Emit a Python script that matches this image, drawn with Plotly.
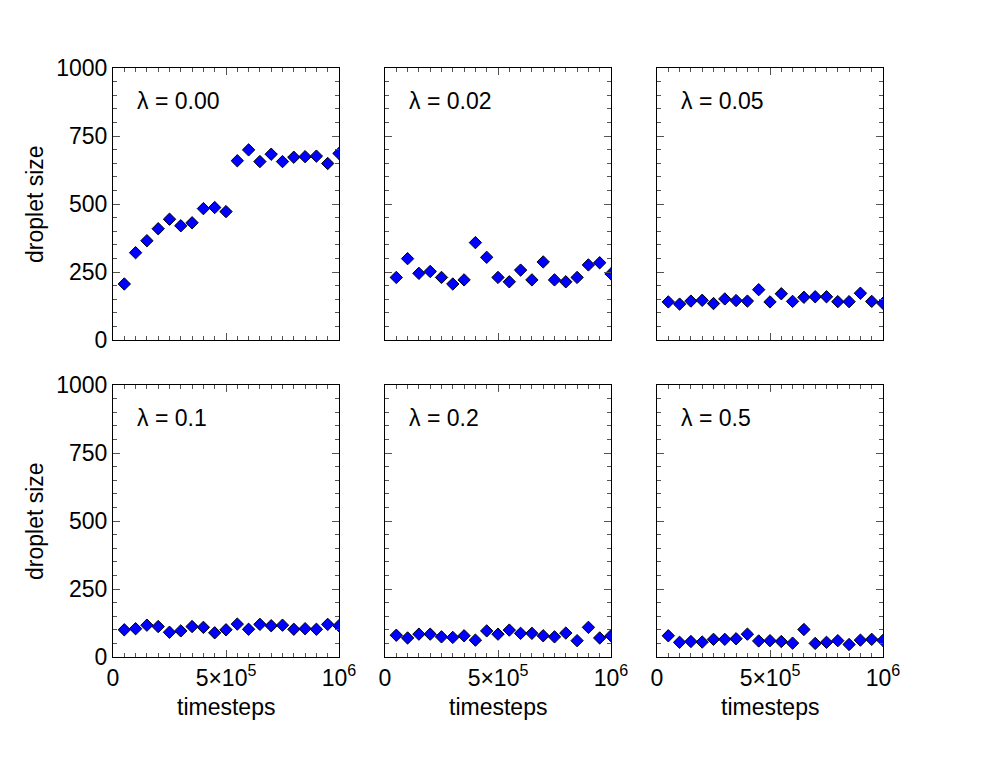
import plotly.graph_objects as go

timesteps = [50000 * i for i in range(1, 21)]

lambdas = ["0.00", "0.02", "0.05", "0.1", "0.2", "0.5"]

size_l000 = [206, 321, 365, 409, 444, 420, 431, 483, 487, 472, 659, 699, 656, 683, 656, 672, 674, 676, 649, 686]
size_l002 = [230, 299, 245, 252, 230, 206, 221, 358, 304, 230, 214, 257, 221, 287, 221, 214, 230, 276, 284, 243]
size_l005 = [140, 132, 143, 146, 134, 151, 145, 143, 185, 140, 170, 142, 157, 159, 159, 141, 141, 172, 142, 135]
size_l01 = [100, 104, 117, 112, 91, 96, 112, 109, 89, 100, 121, 102, 120, 115, 117, 102, 104, 102, 120, 115]
size_l02 = [80, 70, 84, 84, 74, 72, 78, 62, 96, 84, 99, 87, 87, 78, 74, 88, 60, 109, 70, 78]
size_l05 = [78, 54, 57, 55, 65, 65, 67, 84, 59, 60, 57, 51, 101, 50, 54, 60, 46, 62, 65, 61]

series = [size_l000, size_l002, size_l005, size_l01, size_l02, size_l05]

y_tickvals = [0, 250, 500, 750, 1000]
y_ticktext = ["0", "250", "500", "750", "1000"]
x_tickvals = [0, 500000, 1000000]
x_ticktext = ["0", "5×10<sup>5</sup>", "10<sup>6</sup>"]

W, H = 997, 770
# page body adds an 8 px offset; compensate so the frames land where intended
OFF = 8
col_px = [(113 - OFF, 339 - OFF), (385 - OFF, 611 - OFF), (657 - OFF, 883 - OFF)]
row_px = [(68 - OFF, 340 - OFF), (385 - OFF, 657 - OFF)]

FONT = "Liberation Sans, Arial, sans-serif"
FS = 23

fig = go.Figure()
layout = dict(
    width=W, height=H,
    margin=dict(l=0, r=0, t=0, b=0, autoexpand=False),
    paper_bgcolor="white", plot_bgcolor="white",
    showlegend=False,
    font=dict(family=FONT, size=FS, color="black"),
)

lab_dx = (135 - 113) / 226
lab_dy = (340 - 101) / 272

annotations = []
for k, vals in enumerate(series):
    r, c = divmod(k, 3)
    idx = "" if k == 0 else str(k + 1)
    xa = "x" + idx
    ya = "y" + idx
    fig.add_trace(go.Scatter(
        x=timesteps, y=vals, mode="markers",
        marker=dict(symbol="diamond", size=9.5, color="#0000ff",
                    line=dict(color="black", width=1)),
        xaxis=xa, yaxis=ya, cliponaxis=True,
    ))
    x0, x1 = col_px[c]
    y0, y1 = row_px[r]
    layout["xaxis" + idx] = dict(
        domain=[x0 / W, x1 / W], anchor=ya, automargin=False,
        range=[0, 1000000], showgrid=False, zeroline=False,
        showline=True, linecolor="black", linewidth=1, mirror="allticks",
        ticks="inside", ticklen=7, tickcolor="#555", tickwidth=1,
        tickvals=x_tickvals, ticktext=x_ticktext,
        showticklabels=(r == 1), tickfont=dict(size=FS),
        minor=dict(ticks="inside", ticklen=4, tickcolor="#555", dtick=50000, tick0=0, showgrid=False),
        fixedrange=True,
    )
    layout["yaxis" + idx] = dict(
        domain=[1 - y1 / H, 1 - y0 / H], anchor=xa, automargin=False,
        range=[0, 1000], showgrid=False, zeroline=False,
        showline=True, linecolor="black", linewidth=1, mirror="allticks",
        ticks="inside", ticklen=7, tickcolor="#555", tickwidth=1,
        tickvals=y_tickvals, ticktext=y_ticktext,
        showticklabels=(c == 0), tickfont=dict(size=FS),
        minor=dict(ticks="inside", ticklen=4, tickcolor="#555", dtick=50, tick0=0, showgrid=False),
        fixedrange=True,
    )
    annotations.append(dict(
        text="λ = " + lambdas[k], xref=xa + " domain", yref=ya + " domain",
        x=lab_dx, y=lab_dy,
        xanchor="left", yanchor="middle", showarrow=False,
        font=dict(size=FS, family=FONT, color="black"),
    ))

for r in range(2):
    y0, y1 = row_px[r]
    annotations.append(dict(
        text="droplet size", xref="paper", yref="paper",
        x=(35 - OFF) / W, y=1 - ((y0 + y1) / 2) / H, textangle=-90,
        xanchor="center", yanchor="middle", showarrow=False,
        font=dict(size=FS, family=FONT, color="black"),
    ))
for c in range(3):
    x0, x1 = col_px[c]
    annotations.append(dict(
        text="timesteps", xref="paper", yref="paper",
        x=((x0 + x1) / 2) / W, y=1 - (707 - OFF) / H,
        xanchor="center", yanchor="middle", showarrow=False,
        font=dict(size=FS, family=FONT, color="black"),
    ))

layout["annotations"] = annotations
fig.update_layout(**layout)
fig.write_html("out.html")
